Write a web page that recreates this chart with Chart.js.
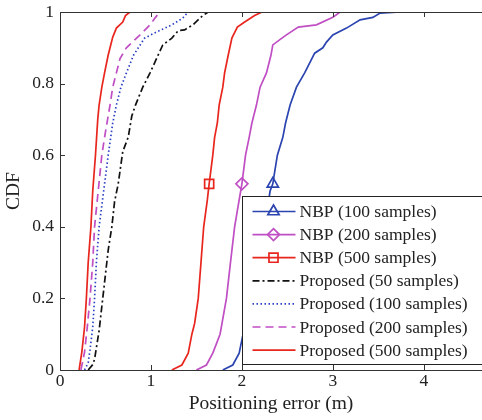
<!DOCTYPE html>
<html>
<head>
<meta charset="utf-8">
<script src="https://cdn.jsdelivr.net/npm/chart.js@4.4.0/dist/chart.umd.min.js"></script>
<style>
  html, body { margin: 0; padding: 0; background: #fff; }
  canvas { display: block; }
</style>
</head>
<body>
<canvas id="cdf" width="482" height="420"></canvas>
<script>
// tick values
const xTicks = [0, 1, 2, 3, 4];
const yTicks = [0, 0.2, 0.4, 0.6, 0.8, 1];

const seriesNames = [
  'NBP (100 samples)', 'NBP (200 samples)', 'NBP (500 samples)',
  'Proposed (50 samples)', 'Proposed (100 samples)',
  'Proposed (200 samples)', 'Proposed (500 samples)'
];

// CDF level where the NBP curves carry their single marker
const markerLevel = 0.52;

// positioning error (m) / cdf pairs
const nbp100Err = [1.79, 1.90, 1.97, 2.00, 2.03, 2.08, 2.17, 2.25, 2.31, 2.34, 2.36, 2.39, 2.45, 2.48, 2.53, 2.60, 2.69, 2.80, 2.89, 2.93, 3.00, 3.15, 3.30, 3.44, 3.52, 3.74];
const nbp100Cdf = [0, 0.014, 0.047, 0.084, 0.12, 0.2, 0.3, 0.4, 0.5, 0.52, 0.553, 0.6, 0.65, 0.69, 0.74, 0.79, 0.83, 0.885, 0.9, 0.916, 0.936, 0.955, 0.978, 0.985, 0.997, 1];

const nbp200Err = [1.50, 1.61, 1.68, 1.76, 1.83, 1.87, 1.92, 1.97, 2.00, 2.04, 2.08, 2.11, 2.16, 2.20, 2.27, 2.32, 2.34, 2.44, 2.49, 2.62, 2.82, 3.00, 3.08];
const nbp200Cdf = [0, 0.014, 0.047, 0.1, 0.2, 0.29, 0.4, 0.475, 0.52, 0.6, 0.65, 0.69, 0.74, 0.79, 0.83, 0.88, 0.908, 0.927, 0.936, 0.958, 0.964, 0.985, 1];

const nbp500Err = [1.23, 1.34, 1.41, 1.45, 1.48, 1.52, 1.55, 1.58, 1.62, 1.64, 1.68, 1.70, 1.73, 1.75, 1.79, 1.81, 1.85, 1.89, 1.95, 2.03, 2.14, 2.22];
const nbp500Cdf = [0, 0.014, 0.047, 0.1, 0.13, 0.2, 0.3, 0.4, 0.475, 0.52, 0.6, 0.65, 0.69, 0.74, 0.79, 0.83, 0.88, 0.927, 0.958, 0.972, 0.99, 1];

const prop50Err = [0.31, 0.36, 0.38, 0.43, 0.47, 0.53, 0.57, 0.60, 0.64, 0.69, 0.75, 0.79, 0.83, 0.91, 0.99, 1.08, 1.13, 1.23, 1.30, 1.37, 1.46, 1.57, 1.63];
const prop50Cdf = [0, 0.015, 0.03, 0.11, 0.2, 0.335, 0.4, 0.47, 0.52, 0.61, 0.65, 0.71, 0.74, 0.79, 0.83, 0.88, 0.908, 0.927, 0.948, 0.95, 0.964, 0.99, 1];

const prop100Err = [0.27, 0.31, 0.33, 0.36, 0.38, 0.40, 0.43, 0.48, 0.53, 0.58, 0.62, 0.67, 0.73, 0.81, 0.93, 1.06, 1.23, 1.35, 1.41];
const prop100Cdf = [0, 0.02, 0.056, 0.12, 0.2, 0.3, 0.4, 0.5, 0.6, 0.69, 0.74, 0.79, 0.83, 0.88, 0.927, 0.944, 0.964, 0.983, 1];

const prop200Err = [0.23, 0.27, 0.30, 0.33, 0.36, 0.38, 0.42, 0.46, 0.49, 0.55, 0.58, 0.62, 0.66, 0.73, 0.88, 0.99, 1.05, 1.10];
const prop200Cdf = [0, 0.05, 0.12, 0.2, 0.3, 0.4, 0.5, 0.6, 0.65, 0.74, 0.79, 0.83, 0.87, 0.90, 0.936, 0.964, 0.985, 1];

const prop500Err = [0.21, 0.24, 0.27, 0.29, 0.31, 0.34, 0.36, 0.39, 0.415, 0.43, 0.46, 0.49, 0.53, 0.58, 0.62, 0.69, 0.72, 0.77];
const prop500Cdf = [0, 0.05, 0.12, 0.2, 0.3, 0.4, 0.5, 0.6, 0.7, 0.74, 0.79, 0.83, 0.88, 0.93, 0.955, 0.972, 0.99, 1];

const serif = "'Liberation Serif', 'Times New Roman', serif";
const textColor = '#222';

function pts(xs, ys) {
  return xs.map((x, i) => ({ x: x, y: ys[i] }));
}

// only the point sitting at markerLevel gets drawn
function markerRadius(r) {
  return ctx => (ctx.raw && ctx.raw.y === markerLevel ? r : 0);
}

function line(label, data, color, dash, marker, r) {
  return {
    label: label,
    data: data,
    borderColor: color,
    backgroundColor: color,
    borderWidth: 1.7,
    borderDash: dash,
    fill: false,
    tension: 0,
    pointStyle: marker || false,
    pointRadius: marker ? markerRadius(r) : 0,
    pointBorderColor: color,
    pointBackgroundColor: 'rgba(0,0,0,0)',
    pointBorderWidth: 1.7,
    markerSize: r || 0
  };
}

const datasets = [
  line(seriesNames[0], pts(nbp100Err, nbp100Cdf), '#2b44b0', [], 'triangle', 6.5),
  line(seriesNames[1], pts(nbp200Err, nbp200Cdf), '#c04ec4', [], 'rectRot', 6),
  line(seriesNames[2], pts(nbp500Err, nbp500Cdf), '#e8261e', [], 'rect', 6.4),
  line(seriesNames[3], pts(prop50Err, prop50Cdf), '#111111', [7, 3, 2, 3]),
  line(seriesNames[4], pts(prop100Err, prop100Cdf), '#2a40c4', [1.5, 2.5]),
  line(seriesNames[5], pts(prop200Err, prop200Cdf), '#c04ec4', [8, 5]),
  line(seriesNames[6], pts(prop500Err, prop500Cdf), '#e8261e', [])
];

// axes frame with inward ticks, then the boxed legend on top of the curves
const frameAndLegend = {
  id: 'frameAndLegend',
  afterDatasetsDraw(chart) {
    const ctx = chart.ctx;
    const a = chart.chartArea;
    const xs = chart.scales.x;
    const ys = chart.scales.y;
    ctx.save();
    ctx.strokeStyle = '#333';
    ctx.lineWidth = 1;
    ctx.setLineDash([]);
    ctx.beginPath();
    ctx.moveTo(a.right + 2, a.top + 0.5);
    ctx.lineTo(a.left + 0.5, a.top + 0.5);
    ctx.lineTo(a.left + 0.5, a.bottom + 0.5);
    ctx.lineTo(a.right + 2, a.bottom + 0.5);
    xTicks.forEach(v => {
      if (v === 0) return;
      const px = Math.round(xs.getPixelForValue(v)) + 0.5;
      ctx.moveTo(px, a.bottom); ctx.lineTo(px, a.bottom - 5);
      ctx.moveTo(px, a.top); ctx.lineTo(px, a.top + 5);
    });
    yTicks.forEach(v => {
      const py = Math.round(ys.getPixelForValue(v)) + 0.5;
      ctx.moveTo(a.left, py); ctx.lineTo(a.left + 5, py);
    });
    ctx.stroke();

    // legend
    const left = a.left + 182.5;
    const top = a.top + 184.5;
    const bottom = a.bottom - 5.5;
    ctx.fillStyle = '#fff';
    ctx.fillRect(left, top, a.right + 10 - left, bottom - top);
    ctx.strokeStyle = '#222';
    ctx.strokeRect(left, top, a.right + 10 - left, bottom - top);

    ctx.font = '17.5px ' + serif;
    ctx.textBaseline = 'middle';
    ctx.textAlign = 'left';
    chart.data.datasets.forEach((ds, i) => {
      const yy = top + 15 + i * 23.1;
      ctx.strokeStyle = ds.borderColor;
      ctx.lineWidth = ds.borderWidth;
      ctx.setLineDash(ds.borderDash);
      ctx.beginPath();
      ctx.moveTo(left + 10, yy);
      ctx.lineTo(left + 53, yy);
      ctx.stroke();
      ctx.setLineDash([]);
      if (ds.pointStyle && Chart.helpers && Chart.helpers.drawPoint) {
        ctx.fillStyle = 'rgba(0,0,0,0)';
        ctx.strokeStyle = ds.borderColor;
        ctx.lineWidth = ds.pointBorderWidth;
        Chart.helpers.drawPoint(ctx, {
          pointStyle: ds.pointStyle,
          radius: ds.markerSize,
          rotation: 0,
          borderWidth: ds.pointBorderWidth
        }, left + 31, yy);
      }
      ctx.fillStyle = textColor;
      ctx.fillText(ds.label, left + 57, yy + 1);
    });
    ctx.restore();
  }
};

new Chart(document.getElementById('cdf'), {
  type: 'line',
  data: { datasets: datasets },
  plugins: [frameAndLegend],
  options: {
    responsive: false,
    animation: false,
    devicePixelRatio: 1,
    layout: { padding: { top: 12, right: 0, left: 0, bottom: 0 } },
    plugins: {
      legend: { display: false },
      tooltip: { enabled: false }
    },
    scales: {
      x: {
        type: 'linear',
        min: 0,
        max: 4.64,
        grid: { display: false, drawTicks: false },
        border: { display: false },
        afterBuildTicks: s => { s.ticks = xTicks.map(v => ({ value: v })); },
        afterFit: s => { s.height = 50; s.paddingLeft = 0; s.paddingRight = 0; },
        ticks: {
          font: { family: serif, size: 17.5, lineHeight: 1 },
          color: textColor,
          padding: 3,
          maxRotation: 0,
          autoSkip: false,
          callback: v => String(v)
        },
        title: {
          display: true,
          text: 'Positioning error (m)',
          font: { family: serif, size: 19.5, lineHeight: 1 },
          color: textColor,
          padding: { top: 2, bottom: 6 }
        }
      },
      y: {
        type: 'linear',
        min: 0,
        max: 1,
        grid: { display: false, drawTicks: false },
        border: { display: false },
        afterBuildTicks: s => { s.ticks = yTicks.map(v => ({ value: v })); },
        afterFit: s => { s.width = 60; s.paddingTop = 0; s.paddingBottom = 0; },
        ticks: {
          font: { family: serif, size: 17.5, lineHeight: 1 },
          color: textColor,
          padding: 6,
          autoSkip: false,
          callback: v => String(v)
        },
        title: {
          display: true,
          text: 'CDF',
          font: { family: serif, size: 19.5, lineHeight: 1 },
          color: textColor,
          padding: { top: 4, bottom: 4 }
        }
      }
    }
  }
});
</script>
</body>
</html>
